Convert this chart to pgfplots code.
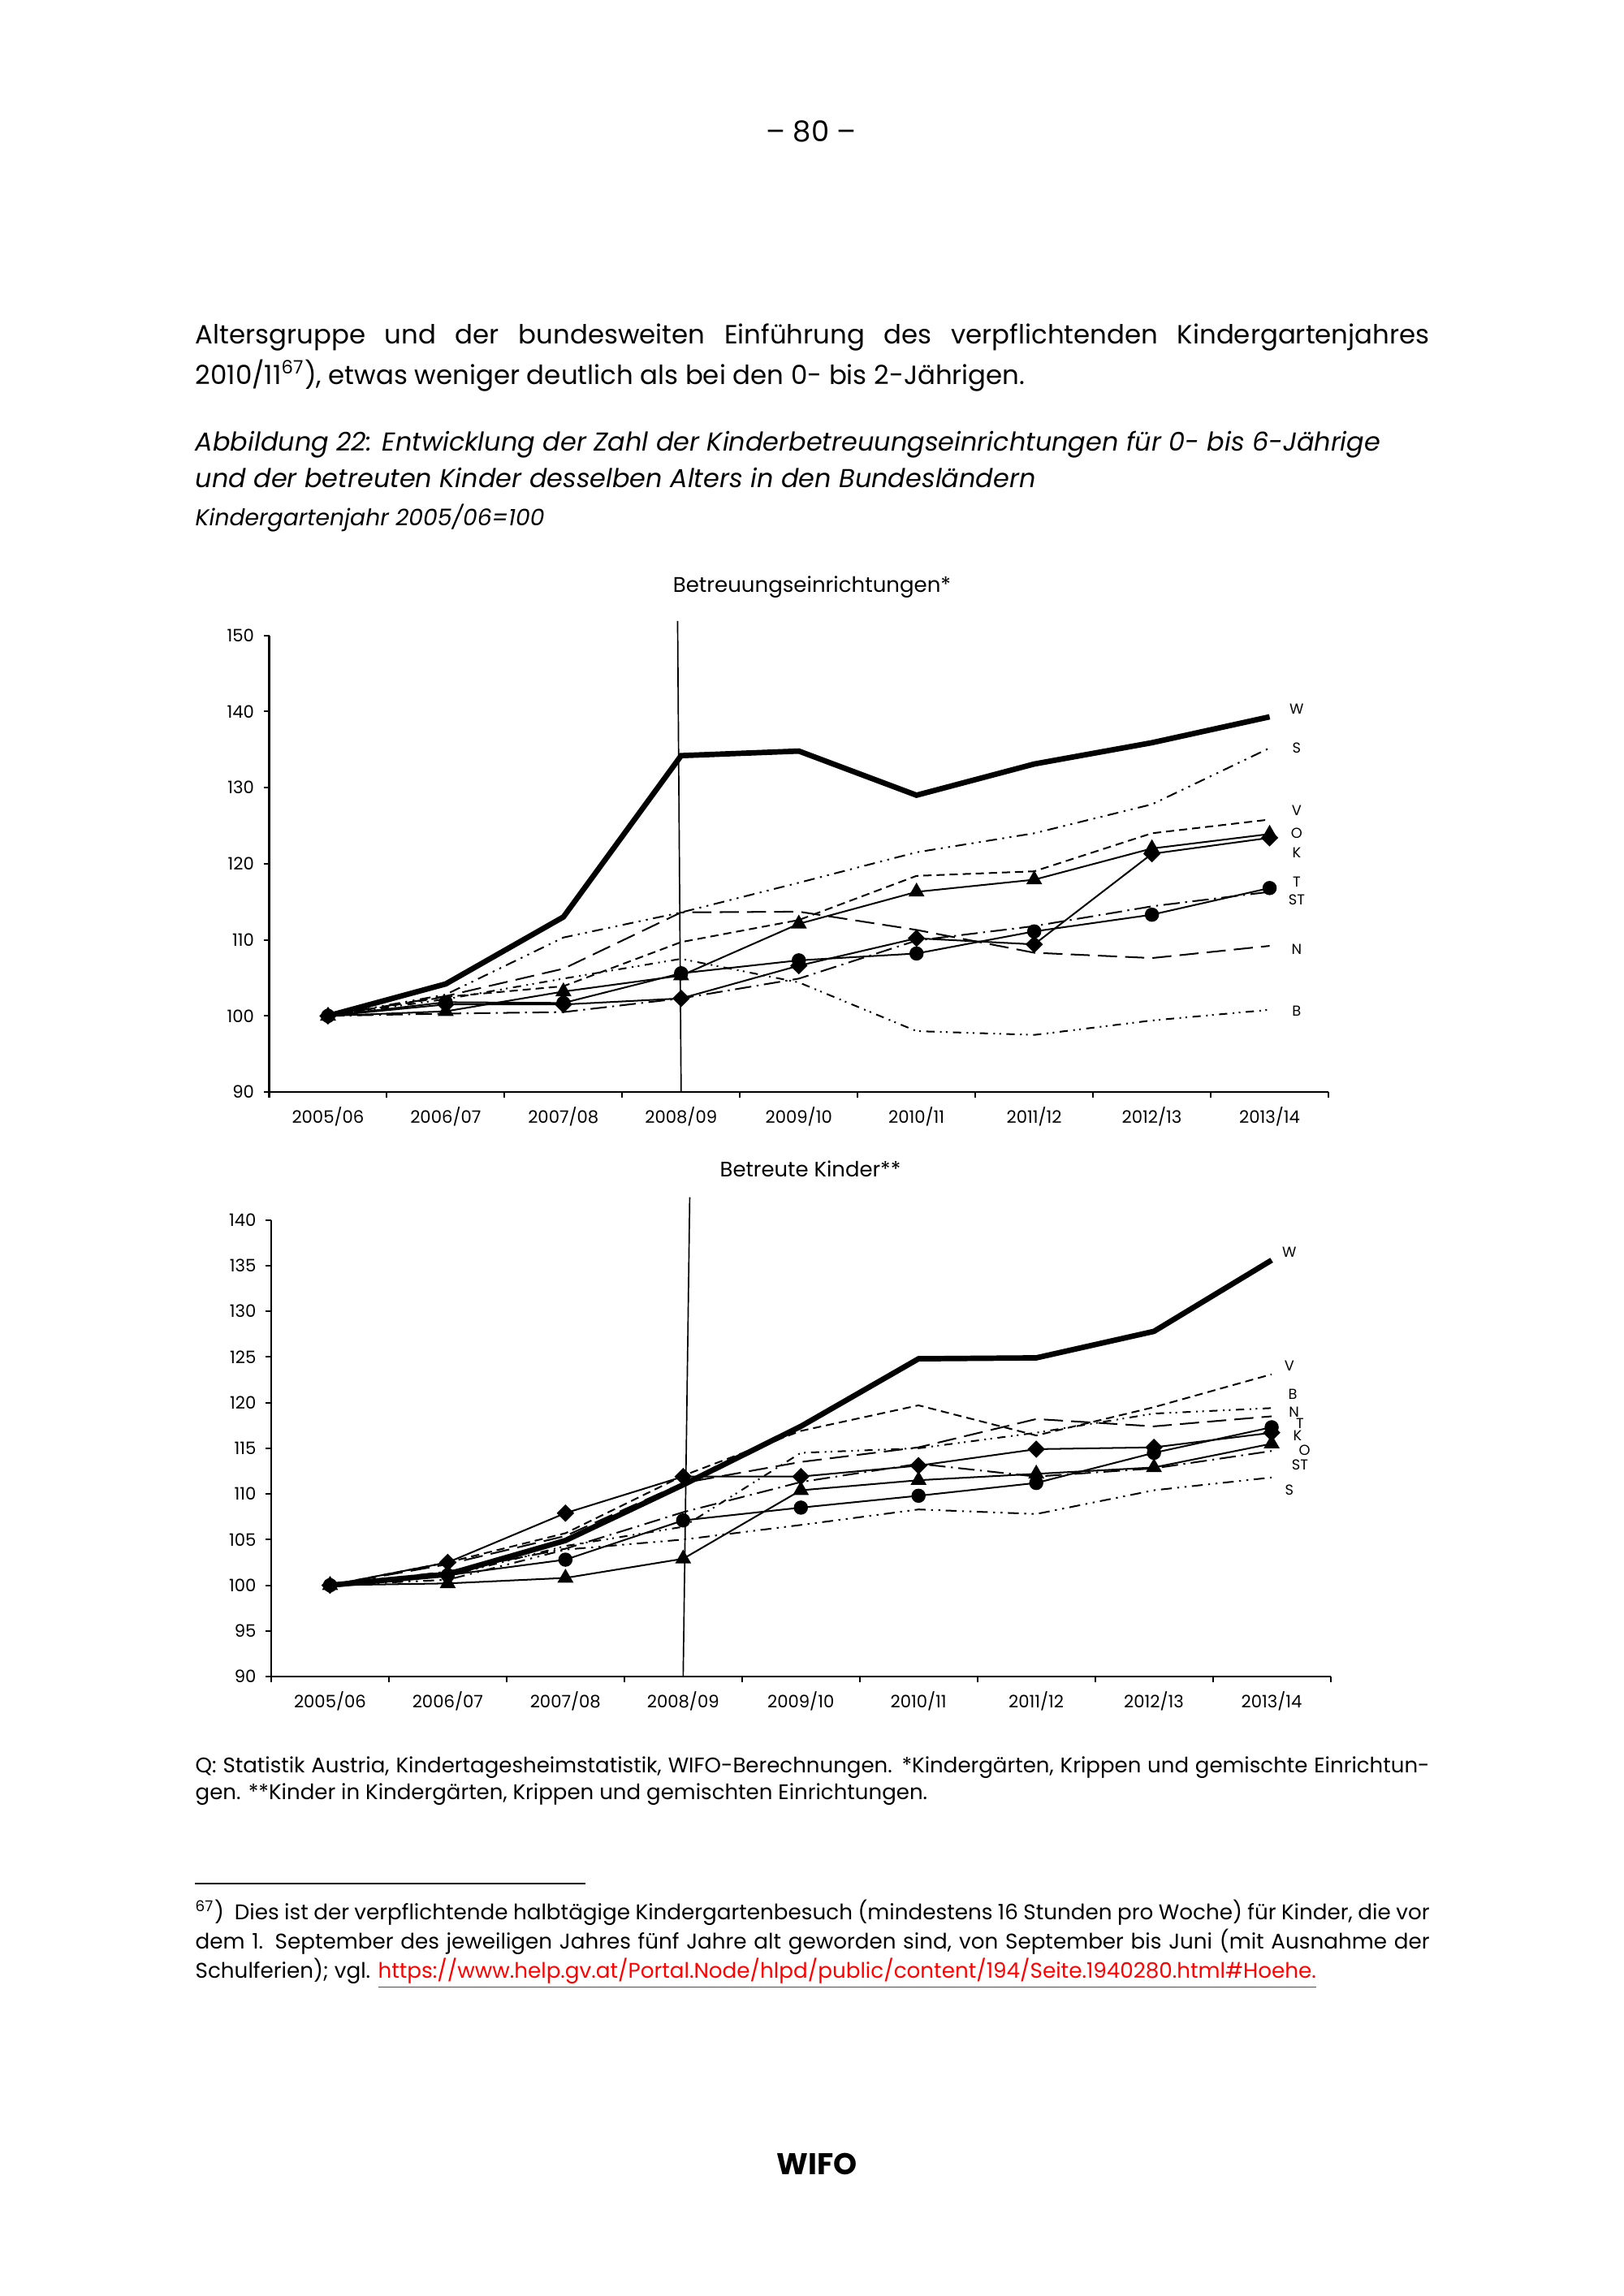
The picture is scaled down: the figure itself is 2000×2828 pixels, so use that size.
\documentclass[border=0pt]{standalone}
\usepackage{fontspec}
\setmainfont{Poppins}
\usepackage{pgfplots}
\usepackage{pgfplotstable}
\pgfplotsset{compat=1.18}

% index 2005/06 = 100
\pgfplotstableread{
x W     S     V     O     K     T     ST    N     B
0 100   100   100   100   100   100   100   100   100
1 104.2 102.8 102.5 100.6 101.5 101.8 100.3 102.6 102.2
2 113.0 110.3 103.9 103.2 101.5 101.7 100.5 106.2 104.9
3 134.2 113.6 109.7 105.3 102.3 105.6 102.3 113.6 107.5
4 134.8 117.5 112.6 112.1 106.6 107.3 104.9 113.7 104.4
5 129.0 121.5 118.4 116.3 110.2 108.2 109.9 111.3 98.0
6 133.1 124.0 119.0 117.9 109.4 111.1 111.8 108.3 97.5
7 135.9 127.8 124.0 122.0 121.3 113.3 114.4 107.6 99.4
8 139.3 135.2 125.8 123.9 123.4 116.8 116.3 109.2 100.8
}\einr

\pgfplotstableread{
x W     S     V     O     K     T     ST    N     B
0 100   100   100   100   100   100   100   100   100
1 101.2 100.6 102.5 100.2 102.5 101.1 101.5 102.3 101.0
2 104.9 103.9 105.7 100.8 107.9 102.8 104.0 105.4 104.3
3 111.0 105.0 112.0 102.9 111.9 107.1 108.0 111.2 106.4
4 117.4 106.6 116.9 110.4 111.9 108.5 111.3 113.5 114.5
5 124.8 108.3 119.7 111.5 113.1 109.8 113.3 115.1 115.0
6 124.9 107.8 116.4 112.2 114.9 111.2 111.9 118.2 116.7
7 127.8 110.4 119.5 112.9 115.1 114.5 112.8 117.4 118.8
8 135.6 111.8 123.1 115.5 116.7 117.3 114.7 118.5 119.4
}\kinder

\pgfplotsset{
  panel/.style={
    scale only axis, width=388.3pt, height=167.4pt,
    anchor=south west, clip=false,
    xmin=-0.5, xmax=8.5,
    axis x line*=bottom, axis y line*=left,
    axis line style={-, line width=0.6pt},
    xtick={-0.5,0.5,...,8.5},
    xticklabels={2005/06,2006/07,2007/08,2008/09,2009/10,2010/11,2011/12,2012/13,2013/14,},
    xticklabel style={xshift=21.56pt},
    tick align=outside, major tick length=2pt,
    tick style={black, line width=0.6pt},
    ticklabel style={font=\fontsize{6.3}{7}\selectfont},
    /pgf/number format/assume math mode=true,
    every axis plot/.append style={line width=0.6pt, black},
  },
  lw/.style={line width=2pt, black},
  sdd/.style={dash pattern=on 4pt off 2pt on 0.7pt off 2pt on 0.7pt off 2pt},
  sda/.style={dash pattern=on 6pt off 2pt on 0.7pt off 2pt},
  sbb/.style={dash pattern=on 3pt off 2pt on 0.6pt off 1.6pt on 0.6pt off 2pt},
  ssh/.style={dash pattern=on 3pt off 1.8pt},
  slo/.style={dash pattern=on 7pt off 3pt},
  mtri/.style={mark=triangle*, mark size=2.8pt, mark options={solid}},
  mdia/.style={mark=square*, mark size=1.95pt, mark options={solid, rotate=45}},
  mcir/.style={mark=*, mark size=2.3pt, mark options={solid}},
}
\tikzset{lab/.style={font=\fontsize{5.3}{6}\selectfont}}

\begin{document}
\begin{tikzpicture}
\begin{scope}[x=0.29765pt, y=-0.29765pt]
  \fill[white] (0,0) rectangle (2000,2828);
  \coordinate (A1) at (331.5,1345);
  \coordinate (A2) at (334,2065);

  \node[anchor=base, inner sep=0] at (999,174) {\fontsize{10.5}{12}\selectfont – 80 –};

  \begin{scope}[every node/.style={anchor=base west, inner sep=0}]
    \node at (240,423) {\fontsize{9.65}{11}\selectfont\makebox[452.4pt][s]{Altersgruppe und der bundesweiten Einführung des verpflichtenden Kindergartenjahres}};
    \node at (240,473) {\fontsize{9.65}{11}\selectfont 2010/11\textsuperscript{67}), etwas weniger deutlich als bei den 0- bis 2-Jährigen.};

    \node at (240,555) {\fontsize{9.5}{11}\selectfont\itshape Abbildung 22: Entwicklung der Zahl der Kinderbetreuungseinrichtungen für 0- bis 6-Jährige};
    \node at (240,600) {\fontsize{9.5}{11}\selectfont\itshape und der betreuten Kinder desselben Alters in den Bundesländern};
    \node at (240,647) {\fontsize{8.4}{10}\selectfont\itshape Kindergartenjahr 2005/06=100};

    \node at (240,2183) {\fontsize{7.75}{9}\selectfont\makebox[452.4pt][s]{Q: Statistik Austria, Kindertagesheimstatistik, WIFO-Berechnungen. *Kindergärten, Krippen und gemischte Einrichtun-}};
    \node at (240,2216) {\fontsize{7.75}{9}\selectfont gen. **Kinder in Kindergärten, Krippen und gemischten Einrichtungen.};

    \node at (240,2364) {\fontsize{7.8}{9}\selectfont\makebox[452.4pt][s]{\textsuperscript{67})\ \ Dies ist der verpflichtende halbtägige Kindergartenbesuch (mindestens 16 Stunden pro Woche) für Kinder, die vor}};
    \node at (240,2400) {\fontsize{7.8}{9}\selectfont\makebox[452.4pt][s]{dem 1. September des jeweiligen Jahres fünf Jahre alt geworden sind, von September bis Juni (mit Ausnahme der}};
    \node at (240,2436) {\fontsize{7.8}{9}\selectfont Schulferien); vgl. \textcolor{red}{\underline{https://www.help.gv.at/Portal.Node/hlpd/public/content/194/Seite.1940280.html\#Hoehe.}}};
  \end{scope}

  \draw[line width=0.5pt] (240,2320) -- (721,2320);

  \node[anchor=base, inner sep=0] at (1000,729) {\fontsize{7.75}{9}\selectfont Betreuungseinrichtungen*};
  \node[anchor=base, inner sep=0] at (998,1449) {\fontsize{7.7}{9}\selectfont Betreute Kinder**};

  \node[anchor=base, inner sep=0] at (1006,2678) {\fontsize{11}{13}\selectfont\bfseries WIFO};
\end{scope}

% Betreuungseinrichtungen
\begin{axis}[panel, at={(A1)}, ymin=90, ymax=150, ytick={90,100,...,150}]
  \addplot[lw] table[x=x, y=W] {\einr};
  \addplot[sdd] table[x=x, y=S] {\einr};
  \addplot[ssh] table[x=x, y=V] {\einr};
  \addplot[slo] table[x=x, y=N] {\einr};
  \addplot[sbb] table[x=x, y=B] {\einr};
  \addplot[sda] table[x=x, y=ST] {\einr};
  \addplot[mtri] table[x=x, y=O] {\einr};
  \addplot[mdia] table[x=x, y=K] {\einr};
  \addplot[mcir] table[x=x, y=T] {\einr};
  \draw[line width=0.5pt] (axis cs:2.97,151.9) -- (axis cs:3.0,90);
  \node[lab] at (axis cs:8.23,140.3) {W};
  \node[lab] at (axis cs:8.23,135.2) {S};
  \node[lab] at (axis cs:8.23,127.0) {V};
  \node[lab] at (axis cs:8.23,124.0) {O};
  \node[lab] at (axis cs:8.23,121.4) {K};
  \node[lab] at (axis cs:8.23,117.6) {T};
  \node[lab] at (axis cs:8.23,115.3) {ST};
  \node[lab] at (axis cs:8.23,108.8) {N};
  \node[lab] at (axis cs:8.23,100.6) {B};
\end{axis}

% Betreute Kinder
\begin{axis}[panel, at={(A2)}, ymin=90, ymax=140, ytick={90,95,...,140}]
  \addplot[lw] table[x=x, y=W] {\kinder};
  \addplot[sdd] table[x=x, y=S] {\kinder};
  \addplot[ssh] table[x=x, y=V] {\kinder};
  \addplot[slo] table[x=x, y=N] {\kinder};
  \addplot[sbb] table[x=x, y=B] {\kinder};
  \addplot[sda] table[x=x, y=ST] {\kinder};
  \addplot[mtri] table[x=x, y=O] {\kinder};
  \addplot[mdia] table[x=x, y=K] {\kinder};
  \addplot[mcir] table[x=x, y=T] {\kinder};
  \draw[line width=0.5pt] (axis cs:3.056,142.5) -- (axis cs:3.0,90);
  \node[lab] at (axis cs:8.15,136.5) {W};
  \node[lab] at (axis cs:8.15,124.0) {V};
  \node[lab] at (axis cs:8.18,120.9) {B};
  \node[lab] at (axis cs:8.19,119.0) {N};
  \node[lab] at (axis cs:8.24,117.7) {T};
  \node[lab] at (axis cs:8.22,116.4) {K};
  \node[lab] at (axis cs:8.28,114.8) {O};
  \node[lab] at (axis cs:8.24,113.2) {ST};
  \node[lab] at (axis cs:8.15,110.4) {S};
\end{axis}
\end{tikzpicture}
\end{document}
